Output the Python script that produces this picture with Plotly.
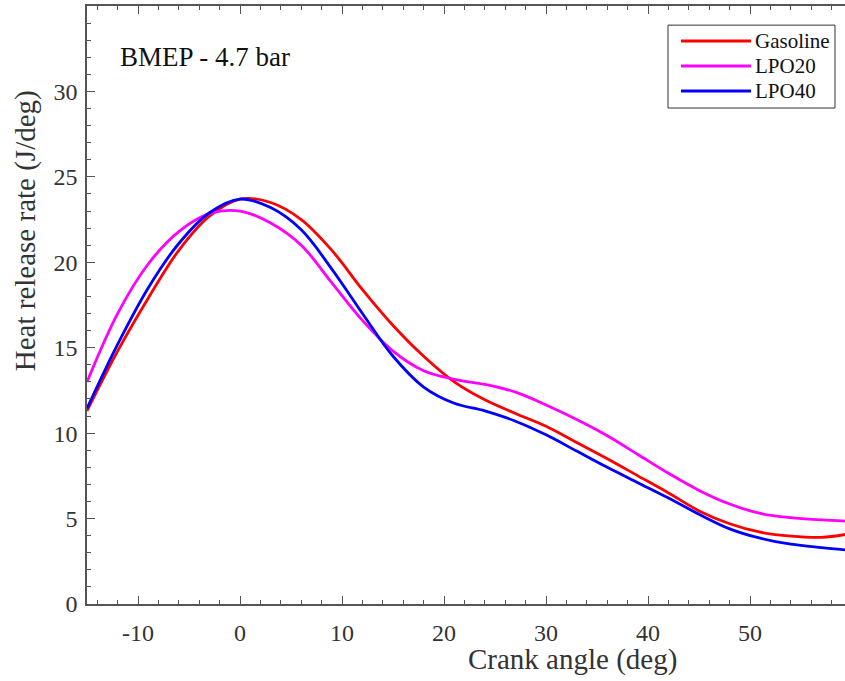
import plotly.graph_objects as go

crank_angle = [-15, -12, -9, -6, -3, 0, 3, 6, 9, 12, 15, 18, 21, 24, 27, 30, 33, 36, 39, 42, 45, 48, 51, 54, 57, 59.3]
gasoline = [11.3, 14.8, 17.9, 20.7, 22.7, 23.7, 23.5, 22.5, 20.7, 18.4, 16.3, 14.5, 13.0, 11.95, 11.15, 10.4, 9.45, 8.5, 7.5, 6.5, 5.45, 4.7, 4.2, 3.97, 3.9, 4.07]
lpo20 = [13.0, 17.0, 19.9, 21.8, 22.85, 23.0, 22.3, 21.0, 18.8, 16.6, 14.8, 13.65, 13.15, 12.85, 12.4, 11.65, 10.8, 9.85, 8.75, 7.65, 6.65, 5.85, 5.3, 5.05, 4.92, 4.85]
lpo40 = [11.45, 15.2, 18.5, 21.1, 22.9, 23.7, 23.2, 21.9, 19.6, 17.0, 14.5, 12.7, 11.75, 11.3, 10.7, 9.9, 8.95, 8.0, 7.1, 6.2, 5.25, 4.4, 3.85, 3.5, 3.3, 3.17]

series = [("Gasoline", gasoline, "#ff0000"), ("LPO20", lpo20, "#ff00ff"), ("LPO40", lpo40, "#0000ff")]

FONT = "Liberation Serif, Times New Roman, serif"
AX = "#555555"
TXT = "#333333"

fig = go.Figure()
for name, ys, col in series:
    fig.add_trace(go.Scatter(x=crank_angle, y=ys, mode="lines", name=name, showlegend=False,
                             line=dict(color=col, width=2.8, shape="spline", smoothing=1.0)))

fig.update_layout(
    width=845, height=681,
    margin=dict(l=87, r=0, t=6, b=77, autoexpand=False),
    plot_bgcolor="white", paper_bgcolor="white",
    font=dict(family=FONT, color=TXT),
    showlegend=False,
)
fig.update_xaxes(range=[-15, 59.3], showline=True, linecolor=AX, linewidth=1.5, mirror="ticks",
                 ticks="inside", ticklen=8, tickwidth=1.3, tickcolor=AX, automargin=False,
                 tickvals=[-10, 0, 10, 20, 30, 40, 50], ticktext=["-10", "0", "10", "20", "30", "40", "50"],
                 minor=dict(dtick=2, tick0=0, ticks="inside", ticklen=4, tickcolor=AX, tickwidth=1.2),
                 tickfont=dict(family=FONT, size=24, color=TXT),
                 showgrid=False, zeroline=False, ticklabelstandoff=6)
fig.update_yaxes(range=[0, 35], showline=True, linecolor=AX, linewidth=1.5, mirror=False,
                 ticks="inside", ticklen=8, tickwidth=1.3, tickcolor=AX, automargin=False,
                 tickvals=[0, 5, 10, 15, 20, 25, 30], ticktext=["0", "5", "10", "15", "20", "25", "30"],
                 minor=dict(dtick=1, tick0=0, ticks="inside", ticklen=4, tickcolor=AX, tickwidth=1.2),
                 tickfont=dict(family=FONT, size=24, color=TXT),
                 showgrid=False, zeroline=False, ticklabelstandoff=3)

fig.add_annotation(text="Crank angle (deg)", xref="paper", yref="paper", x=0.64, y=-0.0936,
                   xanchor="center", yanchor="middle", showarrow=False,
                   font=dict(family=FONT, size=29, color=TXT))
fig.add_annotation(text="Heat release rate (J/deg)", xref="paper", yref="paper", x=-0.0818, y=0.625,
                   xanchor="center", yanchor="middle", textangle=-90, showarrow=False,
                   font=dict(family=FONT, size=29, color=TXT))
fig.add_annotation(text="BMEP - 4.7 bar", xref="paper", yref="paper", x=0.0409, y=0.9147,
                   xanchor="left", yanchor="middle", showarrow=False,
                   font=dict(family=FONT, size=27, color="#111111"))

# legend box drawn to match the reference layout
fig.add_shape(type="rect", xref="paper", yref="paper", x0=0.7665, x1=0.9868, y0=0.8294, y1=0.968,
              line=dict(color="#333333", width=1), fillcolor="white", layer="above")
row_y = [0.9415, 0.8997, 0.8579]
for (name, ys, col), ry in zip(series, row_y):
    fig.add_shape(type="line", xref="paper", yref="paper", x0=0.7836, x1=0.876, y0=ry, y1=ry,
                  line=dict(color=col, width=2.8), layer="above")
    fig.add_annotation(text=name, xref="paper", yref="paper", x=0.8785, y=ry,
                       xanchor="left", yanchor="middle", showarrow=False,
                       font=dict(family=FONT, size=21, color="#111111"))

fig.write_html("out.html", config={"displayModeBar": False},
               post_script="document.body.style.margin='0';document.body.style.overflow='hidden';")
